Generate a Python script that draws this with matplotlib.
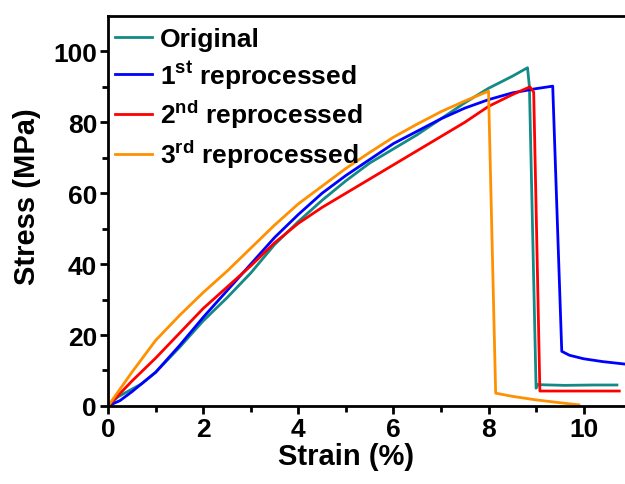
import matplotlib
matplotlib.use("Agg")
import matplotlib.pyplot as plt

plt.rcParams["font.family"] = ["Liberation Sans", "DejaVu Sans"]
plt.rcParams["font.weight"] = "bold"
plt.rcParams["mathtext.fontset"] = "custom"
plt.rcParams["mathtext.bf"] = "Liberation Sans:bold"
plt.rcParams["mathtext.rm"] = "Liberation Sans:bold"

# Original
strain_orig = [0, 0.2, 0.7, 1.0, 1.5, 2.0, 2.5, 3.0, 3.5, 4.0, 4.5, 5.0, 5.5, 6.0,
               6.5, 7.0, 7.5, 8.0, 8.5, 8.82, 8.86, 9.0, 9.03, 9.6, 10.2, 10.7]
stress_orig = [0, 2.5, 6.2, 9.5, 16.5, 24, 30.5, 37.5, 45.5, 52, 58, 63.5, 68.5, 72.5,
               76.5, 81, 85.5, 89.6, 93, 95.4, 90, 5, 6, 5.8, 5.9, 5.9]

# 1st reprocessed
strain_1st = [0, 0.25, 0.5, 1.0, 1.5, 2.0, 2.5, 3.0, 3.5, 4.0, 4.5, 5.0, 5.5, 6.0,
              6.5, 7.0, 7.5, 8.0, 8.5, 9.0, 9.35, 9.54, 9.7, 10.0, 10.4, 10.87]
stress_1st = [0, 1.5, 4, 9.5, 17, 25, 32.5, 40, 47.5, 54, 60, 65, 69.5, 74,
              77.5, 81, 84, 86.4, 88.3, 89.5, 90.2, 15.4, 14.3, 13.3, 12.5, 11.8]

# 2nd reprocessed
strain_2nd = [0, 0.5, 1.0, 1.5, 2.0, 2.5, 3.0, 3.5, 4.0, 4.5, 5.0, 5.5, 6.0, 6.5,
              7.0, 7.5, 8.0, 8.5, 8.87, 8.95, 9.08, 9.5, 10.2, 10.75]
stress_2nd = [0, 7, 13.5, 20.5, 27.5, 33.5, 39.5, 46, 51.5, 56, 60, 64, 68, 72,
              76, 80, 84.5, 87.8, 90, 88.5, 4.2, 4.2, 4.2, 4.2]

# 3rd reprocessed
strain_3rd = [0, 0.5, 1.0, 1.5, 2.0, 2.5, 3.0, 3.5, 4.0, 4.5, 5.0, 5.5, 6.0, 6.5,
              7.0, 7.5, 8.0, 8.15, 8.5, 9.0, 9.5, 9.9]
stress_3rd = [0, 9.5, 18.5, 25.5, 32, 38, 44.5, 51, 57, 62, 67, 71.5, 75.8, 79.5,
              83, 86, 88.8, 3.6, 2.7, 1.7, 0.9, 0.3]

fig = plt.figure(figsize=(6.25, 4.85), dpi=100)
ax = fig.add_axes([0.173, 0.161, 0.827, 0.804])

ax.plot(strain_orig, stress_orig, color="#138a85", lw=2, label="Original")
ax.plot(strain_1st, stress_1st, color="#0000ff", lw=2, label=r"1$^{\mathbf{st}}$ reprocessed")
ax.plot(strain_2nd, stress_2nd, color="#ff0000", lw=2, label=r"2$^{\mathbf{nd}}$ reprocessed")
ax.plot(strain_3rd, stress_3rd, color="#ff9000", lw=2, label=r"3$^{\mathbf{rd}}$ reprocessed")

ax.set_xlim(0, 10.87)
ax.set_ylim(0, 110)
ax.set_xticks([0, 2, 4, 6, 8, 10])
ax.set_xticks([1, 3, 5, 7, 9], minor=True)
ax.set_yticks([0, 20, 40, 60, 80, 100])
ax.set_yticks([10, 30, 50, 70, 90], minor=True)

for s in ["left", "bottom", "top"]:
    ax.spines[s].set_linewidth(2)
ax.spines["right"].set_visible(False)

ax.tick_params(which="major", direction="out", length=6, width=2, labelsize=19, pad=2)
ax.tick_params(which="minor", direction="out", length=4, width=2)

ax.set_xlabel("Strain (%)", fontsize=21, fontweight="bold")
ax.set_ylabel("Stress (MPa)", fontsize=21, fontweight="bold")
ax.xaxis.set_label_coords(0.46, -0.092)
ax.yaxis.set_label_coords(-0.13, 0.54)

leg = ax.legend(loc="upper left", bbox_to_anchor=(-0.017, 1.012), frameon=False,
                fontsize=19, handlelength=1.4, handletextpad=0.3,
                labelspacing=0.26, borderaxespad=0.2)

fig.savefig("out.png", dpi=100)
